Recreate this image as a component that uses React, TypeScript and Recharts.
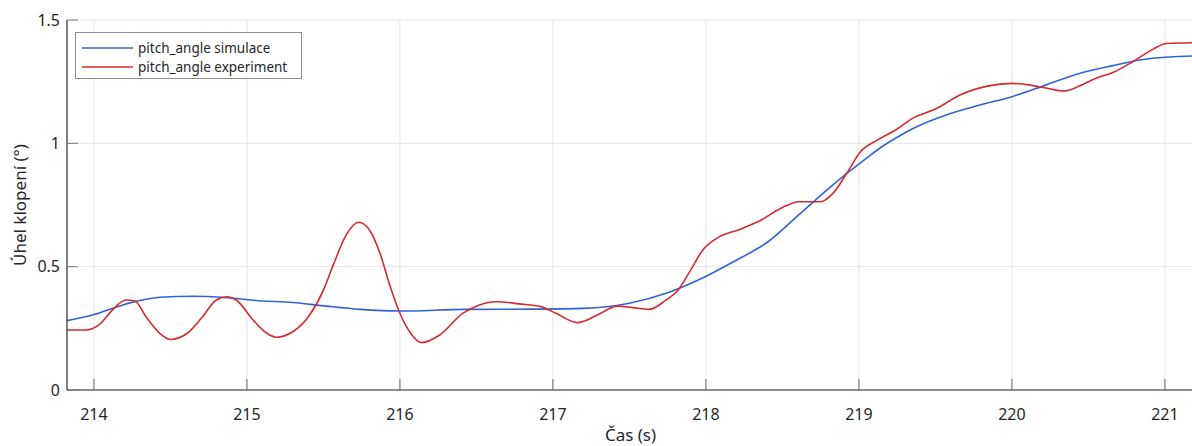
import { LineChart, Line, XAxis, YAxis, CartesianGrid, Label } from "recharts";

// pitch angle, simulation
const simTime = [
  213.82, 213.99, 214.21, 214.43, 214.65, 214.87, 215.08, 215.3, 215.52, 215.74,
  216.0, 216.43, 216.87, 217.2, 217.5, 217.74, 217.96, 218.18, 218.41, 218.61,
  218.83, 219.05, 219.14, 219.27, 219.35, 219.57, 219.79, 220.0, 220.22, 220.44,
  220.66, 220.88, 221.18,
];
const simAngle = [
  0.281, 0.304, 0.349, 0.376, 0.38, 0.374, 0.362, 0.355, 0.34, 0.327,
  0.32, 0.327, 0.328, 0.331, 0.352, 0.392, 0.449, 0.52, 0.603, 0.712,
  0.832, 0.94, 0.982, 1.032, 1.059, 1.115, 1.155, 1.189, 1.236, 1.283,
  1.315, 1.342, 1.354,
];

// pitch angle, experiment
const expTime = [
  213.82, 213.95, 214.04, 214.12, 214.21, 214.27, 214.34, 214.43, 214.5, 214.61,
  214.71, 214.8, 214.87, 214.93, 215.04, 215.13, 215.19, 215.3, 215.41, 215.5,
  215.56, 215.65, 215.73, 215.8, 215.87, 215.93, 216.0, 216.07, 216.14, 216.26,
  216.41, 216.52, 216.63, 216.78, 216.92, 217.02, 217.16, 217.29, 217.42, 217.52,
  217.63, 217.74, 217.81, 217.9, 217.98, 218.07, 218.22, 218.35, 218.5, 218.61,
  218.75, 218.83, 218.92, 219.01, 219.12, 219.24, 219.35, 219.51, 219.66, 219.84,
  220.0, 220.12, 220.23, 220.34, 220.44, 220.55, 220.66, 220.79, 220.92, 221.01,
  221.18,
];
const expAngle = [
  0.243, 0.243, 0.268, 0.324, 0.365, 0.36, 0.297, 0.23, 0.205, 0.23,
  0.297, 0.365, 0.378, 0.365, 0.284, 0.23, 0.214, 0.236, 0.304, 0.405,
  0.5, 0.63, 0.68, 0.65, 0.554, 0.432, 0.311, 0.23, 0.192, 0.223,
  0.311, 0.345, 0.358, 0.349, 0.338, 0.311, 0.273, 0.304, 0.34, 0.334,
  0.327, 0.365, 0.399, 0.486, 0.568, 0.615, 0.651, 0.685, 0.74, 0.763,
  0.763, 0.797, 0.878, 0.966, 1.013, 1.054, 1.101, 1.142, 1.196, 1.232,
  1.243, 1.236, 1.223, 1.212, 1.232, 1.264, 1.287, 1.331, 1.381, 1.405,
  1.408,
];

const xTicks = [214, 215, 216, 217, 218, 219, 220, 221];
const yTicks = [0, 0.5, 1, 1.5];
const seriesNames = ["pitch_angle simulace", "pitch_angle experiment"];
const seriesColors = ["#3062d8", "#d52a2e"];

const simData = simTime.map((t, i) => ({ t, v: simAngle[i] }));
const expData = expTime.map((t, i) => ({ t, v: expAngle[i] }));

const FONT = "'Noto Sans', 'Open Sans', sans-serif";
const TEXT = "#262626";

export default function App() {
  return (
    <div style={{ position: "absolute", left: 0, top: 0, width: 1192, height: 446, overflow: "hidden", background: "#fff" }}>
      <LineChart width={1194} height={446} margin={{ top: 20, right: 0, bottom: 0, left: 0 }}>
        <CartesianGrid stroke="#e6e6e6" strokeWidth={1} />
        <XAxis
          dataKey="t"
          type="number"
          domain={[213.824, 221.19]}
          allowDataOverflow
          ticks={xTicks}
          height={56}
          tickSize={-11}
          tickMargin={30}
          axisLine={{ stroke: "#8c8c8c", strokeWidth: 2 }}
          tickLine={{ stroke: "#666" }}
          tick={{ fill: TEXT, fontSize: 16, fontFamily: FONT }}
        >
          <Label
            value="Čas (s)"
            position="insideBottom"
            offset={5}
            style={{ fill: TEXT, fontSize: 17, fontFamily: FONT }}
          />
        </XAxis>
        <XAxis
          xAxisId="top"
          dataKey="t"
          type="number"
          orientation="top"
          domain={[213.824, 221.19]}
          allowDataOverflow
          ticks={xTicks}
          height={0}
          tickSize={-11}
          tick={false}
          axisLine={{ stroke: "#8c8c8c", strokeWidth: 1.5 }}
          tickLine={{ stroke: "#777" }}
        />
        <YAxis
          type="number"
          domain={[0, 1.5]}
          ticks={yTicks}
          width={67}
          tickSize={-11}
          tickMargin={18}
          axisLine={{ stroke: "#333", strokeWidth: 1.2 }}
          tickLine={{ stroke: "#777" }}
          tick={{ fill: TEXT, fontSize: 16, fontFamily: FONT }}
        >
          <Label
            content={({ viewBox }: any) => {
              const cy = viewBox.y + viewBox.height / 2;
              return (
                <text
                  x={19}
                  y={cy}
                  transform={`rotate(-90 19 ${cy})`}
                  textAnchor="middle"
                  dominantBaseline="central"
                  fill={TEXT}
                  fontSize={17}
                  fontFamily={FONT}
                >
                  Úhel klopení (°)
                </text>
              );
            }}
          />
        </YAxis>
        <Line
          data={simData}
          dataKey="v"
          name={seriesNames[0]}
          type="monotone"
          stroke={seriesColors[0]}
          strokeWidth={1.6}
          dot={false}
          isAnimationActive={false}
        />
        <Line
          data={expData}
          dataKey="v"
          name={seriesNames[1]}
          type="monotone"
          stroke={seriesColors[1]}
          strokeWidth={1.6}
          dot={false}
          isAnimationActive={false}
        />
      </LineChart>
      <div
        style={{
          position: "absolute",
          left: 75,
          top: 32,
          width: 227,
          height: 47,
          border: "1px solid #8c8c8c",
          background: "#fff",
          fontFamily: FONT,
          fontSize: 13.5,
          color: TEXT,
          boxSizing: "border-box",
          paddingTop: 5,
        }}
      >
        {seriesNames.map((name, i) => (
          <div key={name} style={{ display: "flex", alignItems: "center", height: 19, paddingLeft: 6 }}>
            <svg width={51} height={4} style={{ marginRight: 5 }}>
              <line x1={0} y1={2} x2={51} y2={2} stroke={seriesColors[i]} strokeWidth={1.6} />
            </svg>
            <span>{name}</span>
          </div>
        ))}
      </div>
    </div>
  );
}
